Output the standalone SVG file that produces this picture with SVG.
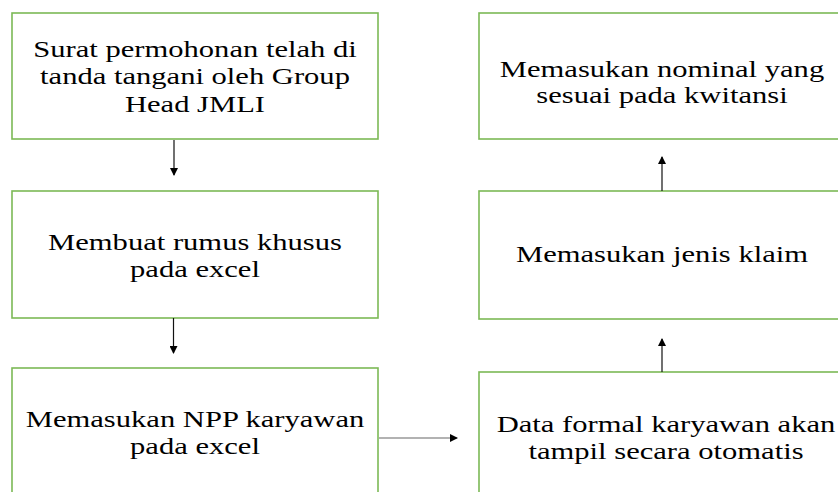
<svg xmlns="http://www.w3.org/2000/svg" width="838" height="492" viewBox="0 0 838 492">
<style>
.box{fill:#fff;stroke:#7cb956;stroke-width:1.6}
.t{font-family:"Liberation Serif","Times New Roman",serif;font-size:23px;fill:#000;text-anchor:middle}
.c{stroke:#111;stroke-width:1.2;fill:none}
.g{stroke:#999;stroke-width:1.4;fill:none}
</style>
<defs>
<marker id="ah" markerWidth="8" markerHeight="8" refX="7" refY="4" orient="auto" markerUnits="userSpaceOnUse">
<path d="M0,0 L8,4 L0,8 Z" fill="#000"/>
</marker>
</defs>
<rect width="838" height="492" fill="#fff"/>
<g id="n1"><rect class="box" x="12" y="13" width="366" height="126"/>
<g transform="matrix(1.33 0 0 1 195 0)">
<text class="t" x="0" y="57">Surat permohonan telah di</text>
<text class="t" x="0" y="84.5">tanda tangani oleh Group</text>
<text class="t" x="0" y="112">Head JMLI</text></g></g>
<g id="n2"><rect class="box" x="12" y="191" width="366" height="127"/>
<g transform="matrix(1.33 0 0 1 195 0)">
<text class="t" x="0" y="250">Membuat rumus khusus</text>
<text class="t" x="0" y="277">pada excel</text></g></g>
<g id="n3"><rect class="box" x="12" y="368" width="366" height="140"/>
<g transform="matrix(1.33 0 0 1 195 0)">
<text class="t" x="0" y="427">Memasukan NPP karyawan</text>
<text class="t" x="0" y="454">pada excel</text></g></g>
<g id="n4"><rect class="box" x="479" y="372" width="366" height="140"/>
<g transform="matrix(1.33 0 0 1 666 0)">
<text class="t" x="0" y="432">Data formal karyawan akan</text>
<text class="t" x="0" y="459">tampil secara otomatis</text></g></g>
<g id="n5"><rect class="box" x="479" y="191" width="366" height="128"/>
<g transform="matrix(1.33 0 0 1 662 0)">
<text class="t" x="0" y="262">Memasukan jenis klaim</text></g></g>
<g id="n6"><rect class="box" x="479" y="13" width="366" height="126"/>
<g transform="matrix(1.33 0 0 1 662 0)">
<text class="t" x="0" y="77">Memasukan nominal yang</text>
<text class="t" x="0" y="103">sesuai pada kwitansi</text></g></g>
<g id="connectors">
<line class="c" x1="174" y1="140" x2="174" y2="175" marker-end="url(#ah)"/>
<line class="c" x1="173.5" y1="318" x2="173.5" y2="353" marker-end="url(#ah)"/>
<line class="g" x1="379" y1="438" x2="457" y2="438" marker-end="url(#ah)"/>
<line class="c" x1="662" y1="372" x2="662" y2="339" marker-end="url(#ah)"/>
<line class="c" x1="662" y1="191" x2="662" y2="157" marker-end="url(#ah)"/>
</g>
</svg>
